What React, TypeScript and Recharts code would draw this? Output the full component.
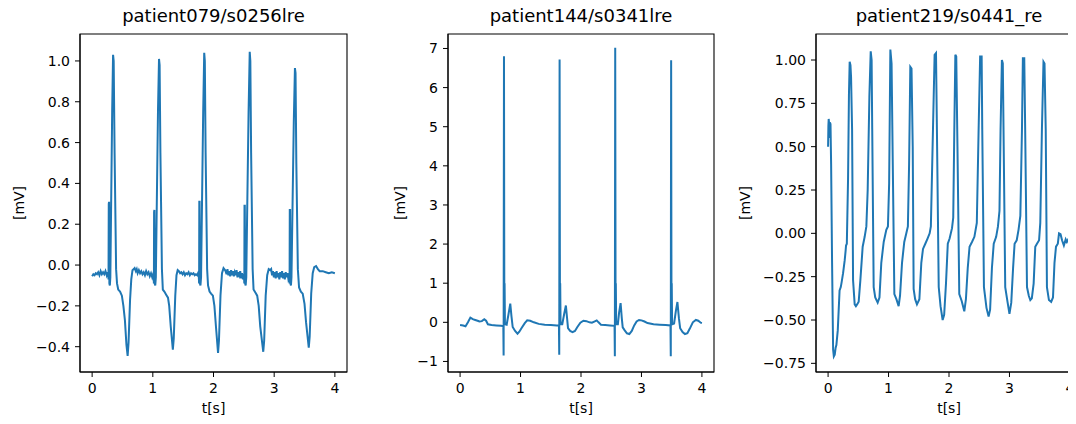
import { LineChart, Line, XAxis, YAxis, ReferenceArea, Label } from 'recharts';

// patient079/s0256lre  [t (s), mV]
const ecg079: [number, number][] = [
  [0, -0.055], [0.02, -0.045], [0.04, -0.05], [0.06, -0.04], [0.08, -0.045], [0.1, -0.035], [0.12, -0.05],
  [0.14, -0.03], [0.16, -0.045], [0.18, -0.035], [0.2, -0.045], [0.22, -0.03], [0.24, -0.05], [0.255, -0.035],
  [0.265, -0.05], [0.27, -0.07], [0.274, 0.3], [0.279, 0.31], [0.284, -0.09], [0.292, -0.1], [0.3, -0.06],
  [0.33, 0.75], [0.345, 1.03], [0.355, 1.0], [0.37, 0.55], [0.395, -0.02], [0.41, -0.09], [0.43, -0.12],
  [0.46, -0.13], [0.49, -0.15], [0.515, -0.2], [0.54, -0.27], [0.565, -0.39], [0.585, -0.445], [0.6, -0.38],
  [0.625, -0.17], [0.645, -0.07], [0.665, -0.025], [0.685, -0.02],
  [0.7, -0.015], [0.72, -0.03], [0.735, -0.02], [0.75, -0.04], [0.77, -0.025], [0.79, -0.04], [0.81, -0.03],
  [0.83, -0.045], [0.85, -0.035], [0.87, -0.05], [0.89, -0.03], [0.91, -0.045], [0.93, -0.035], [0.95, -0.055],
  [0.97, -0.04], [0.99, -0.06], [1.005, -0.045],
  [1.013, -0.05], [1.018, -0.09], [1.021, 0.26], [1.026, 0.27], [1.03, -0.09], [1.04, -0.1], [1.05, -0.06],
  [1.085, 0.75], [1.102, 1.01], [1.112, 0.98], [1.125, 0.55], [1.15, -0.02], [1.165, -0.12], [1.19, -0.13],
  [1.22, -0.145], [1.25, -0.16], [1.27, -0.2], [1.295, -0.3], [1.33, -0.415], [1.345, -0.36], [1.37, -0.15],
  [1.39, -0.05], [1.41, -0.025], [1.43, -0.03],
  [1.45, -0.04], [1.47, -0.035], [1.49, -0.045], [1.51, -0.035], [1.53, -0.05], [1.55, -0.04], [1.57, -0.045],
  [1.59, -0.035], [1.61, -0.05], [1.63, -0.04], [1.65, -0.045], [1.67, -0.04], [1.69, -0.05], [1.71, -0.045],
  [1.73, -0.05], [1.745, -0.04],
  [1.758, -0.06], [1.763, -0.09], [1.766, 0.31], [1.771, 0.31], [1.776, -0.09], [1.785, -0.1], [1.795, -0.06],
  [1.83, 0.75], [1.847, 1.04], [1.857, 1.0], [1.87, 0.55], [1.895, -0.02], [1.91, -0.1], [1.935, -0.13],
  [1.96, -0.14], [1.99, -0.15], [2.015, -0.2], [2.04, -0.3], [2.075, -0.43], [2.09, -0.37], [2.115, -0.15],
  [2.14, -0.04], [2.165, -0.015], [2.19, -0.025],
  [2.2, -0.03], [2.215, -0.045], [2.23, -0.02], [2.245, -0.05], [2.26, -0.03], [2.275, -0.055], [2.29, -0.025],
  [2.305, -0.05], [2.32, -0.03], [2.335, -0.055], [2.35, -0.035], [2.365, -0.05], [2.38, -0.025], [2.395, -0.06],
  [2.41, -0.035], [2.425, -0.05], [2.44, -0.03], [2.455, -0.065], [2.47, -0.04], [2.485, -0.07], [2.495, -0.045],
  [2.503, -0.06], [2.508, -0.09], [2.511, 0.29], [2.516, 0.29], [2.521, -0.09], [2.53, -0.1], [2.54, -0.06],
  [2.578, 0.75], [2.597, 1.045], [2.607, 1.0], [2.62, 0.55], [2.645, -0.02], [2.66, -0.12], [2.69, -0.135],
  [2.72, -0.15], [2.745, -0.2], [2.77, -0.3], [2.82, -0.425], [2.835, -0.37], [2.86, -0.15], [2.885, -0.05],
  [2.91, -0.02], [2.935, -0.025],
  [2.95, -0.02], [2.965, -0.05], [2.98, -0.03], [2.995, -0.06], [3.01, -0.035], [3.025, -0.065], [3.04, -0.03],
  [3.055, -0.06], [3.07, -0.04], [3.085, -0.07], [3.1, -0.035], [3.115, -0.06], [3.13, -0.03], [3.145, -0.065],
  [3.16, -0.04], [3.175, -0.07], [3.19, -0.035], [3.205, -0.06], [3.22, -0.04], [3.235, -0.07],
  [3.25, -0.06], [3.254, -0.09], [3.257, 0.27], [3.262, 0.27], [3.267, -0.09], [3.276, -0.1], [3.285, -0.06],
  [3.323, 0.7], [3.342, 0.965], [3.352, 0.94], [3.365, 0.5], [3.39, -0.02], [3.41, -0.11], [3.44, -0.13],
  [3.47, -0.14], [3.5, -0.19], [3.525, -0.28], [3.57, -0.405], [3.585, -0.35], [3.61, -0.14], [3.635, -0.04],
  [3.66, -0.01], [3.69, -0.005], [3.72, -0.02], [3.75, -0.03], [3.8, -0.03], [3.85, -0.035], [3.9, -0.04],
  [3.95, -0.035], [4.0, -0.04],
];

// patient144/s0341lre
const ecg144: [number, number][] = [
  [0, -0.07], [0.05, -0.08], [0.09, -0.1], [0.13, 0.0], [0.17, 0.12], [0.21, 0.08], [0.25, 0.06], [0.29, 0.04],
  [0.32, 0.02], [0.36, 0.03], [0.4, 0.08], [0.43, 0.04], [0.46, -0.05], [0.52, -0.07], [0.6, -0.08], [0.68, -0.09],
  [0.715, -0.1], [0.72, -0.85], [0.726, 6.8], [0.732, 0.1], [0.736, 1.0], [0.742, -0.05], [0.77, -0.06],
  [0.8, 0.2], [0.83, 0.48], [0.85, 0.15], [0.87, -0.12], [0.91, -0.22], [0.95, -0.29], [0.98, -0.24],
  [1.02, -0.14], [1.07, -0.02], [1.11, 0.05], [1.16, 0.04], [1.22, 0.0], [1.3, -0.04], [1.4, -0.06], [1.5, -0.07],
  [1.6, -0.08], [1.635, -0.08],
  [1.64, -0.83], [1.646, 6.72], [1.652, 0.1], [1.656, 1.0], [1.662, -0.05], [1.69, -0.05], [1.72, 0.2],
  [1.75, 0.43], [1.77, 0.1], [1.785, -0.15], [1.82, -0.22], [1.86, -0.25], [1.9, -0.22], [1.94, -0.12],
  [1.99, -0.01], [2.04, 0.04], [2.09, 0.03], [2.14, 0.0], [2.18, -0.01], [2.22, 0.02], [2.26, 0.05], [2.29, 0.0],
  [2.33, -0.06], [2.4, -0.07], [2.48, -0.08], [2.555, -0.09],
  [2.56, -0.87], [2.566, 7.02], [2.572, 0.1], [2.576, 1.0], [2.582, -0.05], [2.61, -0.05], [2.63, 0.25],
  [2.655, 0.49], [2.675, 0.1], [2.69, -0.13], [2.72, -0.2], [2.76, -0.28], [2.8, -0.3], [2.84, -0.22],
  [2.88, -0.08], [2.92, 0.02], [2.96, 0.06], [3.0, 0.05], [3.05, 0.02], [3.1, -0.02], [3.2, -0.05], [3.3, -0.06],
  [3.4, -0.07], [3.48, -0.08],
  [3.485, -0.87], [3.491, 6.7], [3.497, 0.1], [3.501, 1.0], [3.507, -0.05], [3.54, -0.03], [3.57, 0.3],
  [3.595, 0.52], [3.62, 0.1], [3.64, -0.15], [3.68, -0.25], [3.72, -0.3], [3.76, -0.28], [3.8, -0.16],
  [3.85, 0.0], [3.9, 0.06], [3.94, 0.04], [3.98, -0.01], [4.0, -0.02],
];

// patient219/s0441_re
const ecg219: [number, number][] = [
  [0, 0.5], [0.005, 0.62], [0.01, 0.66], [0.02, 0.62], [0.025, 0.55], [0.03, 0.64], [0.04, 0.63], [0.05, 0.4],
  [0.066, -0.17], [0.083, -0.67], [0.095, -0.71], [0.11, -0.7], [0.125, -0.66], [0.137, -0.645], [0.16, -0.56],
  [0.19, -0.33], [0.21, -0.31], [0.225, -0.28], [0.248, -0.23], [0.275, -0.155], [0.29, -0.1], [0.297, -0.07],
  [0.31, -0.06], [0.33, 0.31], [0.345, 0.8], [0.357, 0.99], [0.37, 0.97], [0.38, 0.9], [0.397, 0.6],
  [0.413, -0.27], [0.44, -0.41], [0.46, -0.42], [0.48, -0.41], [0.506, -0.395], [0.534, -0.27], [0.572, -0.077],
  [0.605, -0.02], [0.633, 0.04], [0.655, 0.25], [0.683, 0.79], [0.705, 1.05], [0.72, 1.0], [0.73, 0.6],
  [0.754, -0.31], [0.78, -0.37], [0.82, -0.4], [0.85, -0.37], [0.88, -0.17], [0.92, -0.05], [0.963, 0.02],
  [0.99, 0.04], [1.01, 0.29], [1.03, 1.06], [1.05, 0.98], [1.07, 0.4], [1.096, -0.35], [1.13, -0.38],
  [1.167, -0.42], [1.19, -0.36], [1.223, -0.17], [1.26, -0.05], [1.294, 0.0], [1.32, 0.04], [1.34, 0.4],
  [1.36, 0.96], [1.38, 0.95], [1.4, 0.5], [1.415, -0.32], [1.44, -0.38], [1.47, -0.41], [1.51, -0.38],
  [1.542, -0.17], [1.57, -0.09], [1.608, -0.06], [1.645, -0.03], [1.68, 0.0], [1.7, 0.04], [1.735, 0.6],
  [1.762, 1.03], [1.785, 1.04], [1.8, 0.6], [1.83, -0.31], [1.86, -0.42], [1.895, -0.5], [1.92, -0.47],
  [1.95, -0.29], [1.98, -0.06], [2.01, -0.03], [2.05, 0.03], [2.07, 0.09], [2.088, 0.6], [2.105, 1.03],
  [2.12, 1.02], [2.14, 0.5], [2.17, -0.35], [2.21, -0.39], [2.253, -0.45], [2.28, -0.38], [2.31, -0.2],
  [2.34, -0.077], [2.38, -0.05], [2.42, -0.02], [2.46, 0.06], [2.49, 0.6], [2.515, 1.02], [2.54, 1.02],
  [2.55, 0.6], [2.578, -0.31], [2.62, -0.43], [2.655, -0.48], [2.68, -0.44], [2.71, -0.2], [2.74, -0.06],
  [2.78, -0.02], [2.81, 0.04], [2.835, 0.13], [2.853, 0.6], [2.875, 1.0], [2.89, 0.98], [2.905, 0.5],
  [2.93, -0.31], [2.97, -0.4], [3.0, -0.465], [3.03, -0.4], [3.06, -0.2], [3.085, -0.06], [3.12, -0.04],
  [3.15, 0.02], [3.18, 0.1], [3.207, 0.6], [3.222, 1.01], [3.245, 1.01], [3.26, 0.6], [3.29, -0.31],
  [3.32, -0.36], [3.345, -0.385], [3.37, -0.375], [3.4, -0.29], [3.427, -0.077], [3.455, -0.06], [3.49, -0.04],
  [3.51, 0.06], [3.537, 0.6], [3.563, 0.99], [3.58, 0.98], [3.6, 0.6], [3.62, -0.31], [3.653, -0.385],
  [3.69, -0.395], [3.72, -0.37], [3.745, -0.17], [3.77, -0.077], [3.8, -0.06], [3.82, 0.0], [3.845, -0.005],
  [3.87, -0.04], [3.9, -0.07], [3.93, -0.035], [3.95, -0.05], [3.98, -0.03],
];

const xTicks = [0, 1, 2, 3, 4];
const yTicks079 = [-0.4, -0.2, 0, 0.2, 0.4, 0.6, 0.8, 1.0];
const yTicks144 = [-1, 0, 1, 2, 3, 4, 5, 6, 7];
const yTicks219 = [-0.75, -0.5, -0.25, 0, 0.25, 0.5, 0.75, 1.0];

const FONT = "'DejaVu Sans', sans-serif";
const LINE = '#1f77b4';
const TOP = 34;
const BOTTOM = 372;
const H = 424;

const minus = (s: string) => s.replace('-', '\u2212');

interface PanelProps {
  title: string;
  points: [number, number][];
  yDomain: [number, number];
  yTicks: number[];
  digits: number;
  left: number;
  width: number;
  plotLeft: number;
  plotRight: number;
  labelOffset: number;
}

function Panel({ title, points, yDomain, yTicks, digits, left, width, plotLeft, plotRight, labelOffset }: PanelProps) {
  const data = points.map(([t, v]) => ({ t, v }));
  const tickStyle = { fill: '#000', fontSize: 14, fontFamily: FONT };
  return (
    <div style={{ position: 'absolute', left, top: 0, width, height: H }}>
      <div
        style={{
          position: 'absolute',
          left: plotLeft - left - 100,
          width: plotRight - plotLeft + 200,
          top: 5,
          textAlign: 'center',
          fontFamily: FONT,
          fontSize: 18,
          lineHeight: '22px',
          color: '#000',
        }}
      >
        {title}
      </div>
      <LineChart
        width={width}
        height={H}
        data={data}
        margin={{ top: TOP, right: left + width - plotRight, bottom: 0, left: 0 }}
      >
        <XAxis
          dataKey="t"
          type="number"
          domain={[-0.2, 4.2]}
          ticks={xTicks}
          allowDataOverflow
          height={H - BOTTOM}
          tick={tickStyle}
          tickSize={5}
          tickMargin={6}
          stroke="#000"
          tickLine={{ stroke: '#000' }}
          axisLine={{ stroke: '#000' }}
        >
          <Label value="t[s]" position="insideBottom" offset={11} style={{ fontSize: 14, fontFamily: FONT, fill: '#000' }} />
        </XAxis>
        <YAxis
          type="number"
          domain={yDomain}
          ticks={yTicks}
          allowDataOverflow
          width={plotLeft - left}
          tick={tickStyle}
          tickSize={5}
          tickMargin={5}
          tickFormatter={(v: number) => minus(v.toFixed(digits))}
          stroke="#000"
          tickLine={{ stroke: '#000' }}
          axisLine={{ stroke: '#000' }}
        >
          <Label
            value="[mV]"
            angle={-90}
            position="insideLeft"
            offset={labelOffset}
            style={{ fontSize: 14, fontFamily: FONT, fill: '#000', textAnchor: 'middle' }}
          />
        </YAxis>
        <Line
          type="linear"
          dataKey="v"
          stroke={LINE}
          strokeWidth={2}
          dot={false}
          isAnimationActive={false}
        />
        <ReferenceArea
          x1={-0.2}
          x2={4.2}
          y1={yDomain[0]}
          y2={yDomain[1]}
          fill="none"
          stroke="#000"
          strokeWidth={1.1}
          ifOverflow="visible"
        />
      </LineChart>
    </div>
  );
}

export default function App() {
  return (
    <div style={{ position: 'relative', width: 1076, height: 424, margin: -8, overflow: 'hidden', background: '#fff' }}>
      <Panel
        title="patient079/s0256lre"
        points={ecg079}
        yDomain={[-0.524, 1.132]}
        yTicks={yTicks079}
        digits={1}
        left={0}
        width={360}
        plotLeft={80}
        plotRight={347}
        labelOffset={19}
      />
      <Panel
        title="patient144/s0341lre"
        points={ecg144}
        yDomain={[-1.27, 7.37]}
        yTicks={yTicks144}
        digits={0}
        left={360}
        width={370}
        plotLeft={448}
        plotRight={714}
        labelOffset={40}
      />
      <Panel
        title="patient219/s0441_re"
        points={ecg219}
        yDomain={[-0.8, 1.15]}
        yTicks={yTicks219}
        digits={2}
        left={730}
        width={370}
        plotLeft={816}
        plotRight={1082}
        labelOffset={15}
      />
    </div>
  );
}
